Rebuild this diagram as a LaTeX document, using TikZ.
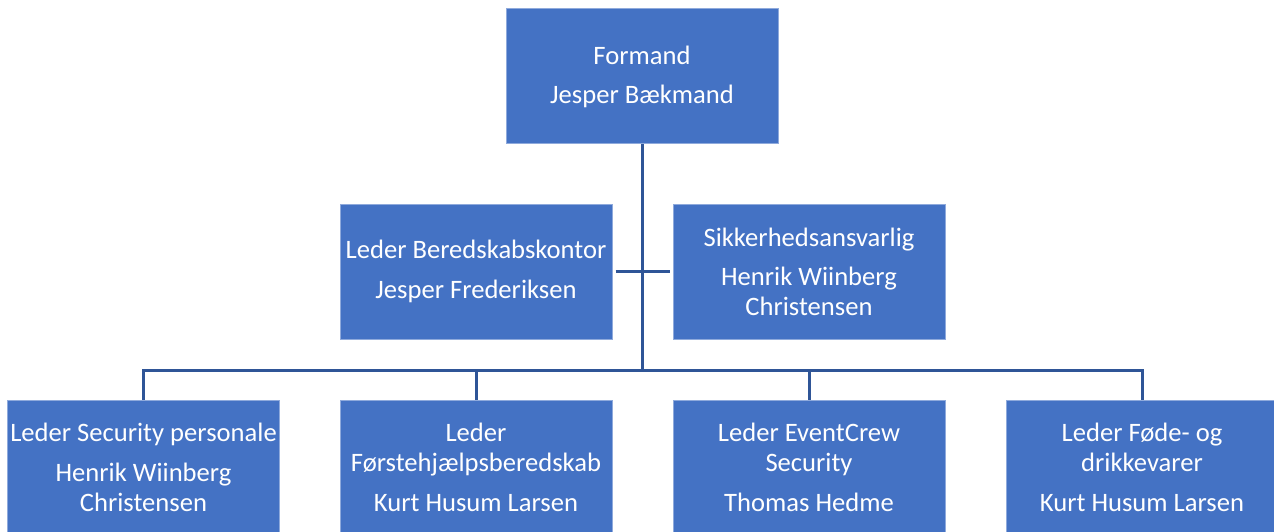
\documentclass[tikz,border=0pt]{standalone}
\usepackage{fontspec}
\setmainfont{Carlito}
\definecolor{boxfill}{HTML}{4472C4}
\definecolor{boxedge}{HTML}{8FAADC}
\definecolor{linecol}{HTML}{2F5597}
\tikzset{
  orgbox/.style={rectangle, fill=boxfill, draw=boxedge, line width=1pt,
    minimum width=272pt, minimum height=135pt, inner sep=0pt,
    text=white, align=center, font=\fontsize{26.6}{30}\selectfont},
  conn/.style={draw=linecol, line width=3pt}
}
\begin{document}
\begin{tikzpicture}[x=1pt,y=-1pt]
\clip (0,0) rectangle (1274,532);
\fill[white] (0,0) rectangle (1274,532);
\node[orgbox] (top) at (642,76.5) {Formand\\[9pt]Jesper Bækmand};
\node[orgbox] (ml) at (476,271.5) {Leder Beredskabskontor\\[10pt]Jesper Frederiksen};
\node[orgbox] (mr) at (809,271.5) {Sikkerhedsansvarlig\\[9pt]Henrik Wiinberg\\Christensen};
\node[orgbox] (b1) at (143.5,467.5) {Leder Security personale\\[10pt]Henrik Wiinberg\\Christensen};
\node[orgbox] (b2) at (476,467.5) {Leder\\Førstehjælpsberedskab\\[10pt]Kurt Husum Larsen};
\node[orgbox] (b3) at (809,467.5) {Leder EventCrew\\Security\\[10pt]Thomas Hedme};
\node[orgbox] (b4) at (1142,467.5) {Leder Føde- og\\drikkevarer\\[10pt]Kurt Husum Larsen};
\coordinate (bar) at (642,370);
\draw[conn] (top.south) -- (bar);
\draw[conn, shorten <=3pt, shorten >=3pt] (ml.east) -- (mr.west);
\draw[conn] (b1.north) -- (b1.north |- bar) -- (b4.north |- bar) -- (b4.north);
\draw[conn] (b2.north) -- (b2.north |- bar);
\draw[conn] (b3.north) -- (b3.north |- bar);
\end{tikzpicture}
\end{document}
